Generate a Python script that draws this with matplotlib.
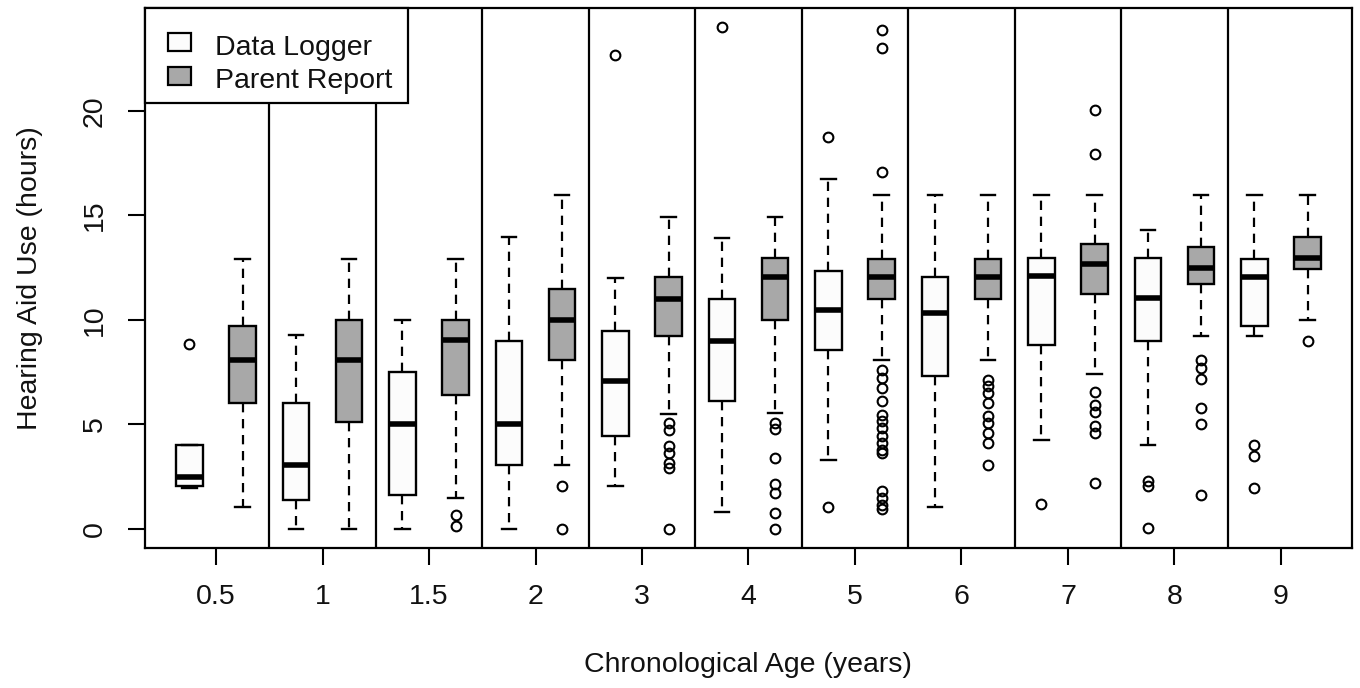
import matplotlib
matplotlib.use("Agg")
import matplotlib.pyplot as plt
from matplotlib.patches import Rectangle

# ---------------- data ----------------
ages = ['0.5', '1', '1.5', '2', '3', '4', '5', '6', '7', '8', '9']

dl_whislo = [1.95, 0.0, 0.0, 0.0, 2.05, 0.8, 3.3, 1.05, 4.25, 4.0, 9.25]
dl_q1     = [2.05, 1.4, 1.6, 3.07, 4.43, 6.1, 8.54, 7.29, 8.82, 8.97, 9.69]
dl_med    = [2.5, 3.07, 5.03, 5.03, 7.06, 9.0, 10.45, 10.35, 12.1, 11.04, 12.05]
dl_q3     = [4.0, 6.02, 7.49, 8.97, 9.45, 11.01, 12.36, 12.05, 12.98, 12.95, 12.92]
dl_whishi = [4.0, 9.29, 10.0, 13.99, 12.0, 13.94, 16.74, 15.98, 15.98, 14.31, 16.0]
dl_fliers = [[8.86], [], [], [], [22.7], [24.0], [18.74, 1.05], [], [1.21],
             [2.28, 2.04, 0.05], [4.03, 3.5, 1.96]]

pr_whislo = [1.05, 0.0, 1.48, 3.07, 5.5, 5.54, 8.09, 8.09, 7.39, 9.21, 10.0]
pr_q1     = [6.02, 5.11, 6.39, 8.09, 9.21, 10.0, 11.01, 11.01, 11.22, 11.71, 12.43]
pr_med    = [8.09, 8.09, 9.02, 10.0, 11.01, 12.07, 12.05, 12.05, 12.66, 12.48, 12.95]
pr_q3     = [9.73, 10.0, 10.0, 11.47, 12.03, 12.95, 12.92, 12.92, 13.61, 13.51, 13.96]
pr_whishi = [12.92, 12.92, 12.92, 15.98, 14.94, 14.94, 15.98, 15.98, 16.0, 15.98, 16.0]
pr_fliers = [[], [], [0.65, 0.15], [2.04, 0.0],
             [5.07, 4.75, 3.95, 3.63, 3.15, 2.92, 0.0],
             [5.07, 4.8, 3.39, 2.12, 1.72, 0.76, 0.0],
             [23.9, 23.0, 17.06, 7.61, 7.22, 6.74, 6.1, 5.46, 5.14, 4.83, 4.43,
              4.11, 3.79, 3.63, 1.8, 1.48, 1.16, 0.96],
             [7.14, 6.82, 6.5, 6.02, 5.38, 5.07, 4.59, 4.11, 3.07],
             [20.06, 17.93, 6.56, 5.91, 5.58, 4.92, 4.59, 2.2],
             [8.09, 7.7, 7.17, 5.78, 5.02, 1.64],
             [8.97]]

series_labels = ['Data Logger', 'Parent Report']
series_colors = ['#fcfcfc', '#a8a8a8']

# ---------------- figure ----------------
plt.rcParams['font.family'] = ['Liberation Sans', 'DejaVu Sans']
TXT = '#111111'
W, H = 1360, 688
fig = plt.figure(figsize=(W / 100, H / 100), dpi=100)
L, R, T, B = 145, 1352, 8, 548
ax = fig.add_axes([L / W, 1 - B / H, (R - L) / W, (B - T) / H])

def stats(wl, q1, md, q3, wh, fl):
    return [dict(whislo=a, q1=b, med=c, q3=d, whishi=e, fliers=f)
            for a, b, c, d, e, f in zip(wl, q1, md, q3, wh, fl)]

n = len(ages)
groups = [
    (stats(dl_whislo, dl_q1, dl_med, dl_q3, dl_whishi, dl_fliers), -0.25, series_colors[0]),
    (stats(pr_whislo, pr_q1, pr_med, pr_q3, pr_whishi, pr_fliers), 0.25, series_colors[1]),
]
for st, off, col in groups:
    ax.bxp(st, positions=[i + off for i in range(n)], widths=0.25,
           capwidths=0.135, patch_artist=True, manage_ticks=False,
           boxprops=dict(facecolor=col, edgecolor='black', linewidth=1.7),
           whiskerprops=dict(color='black', linewidth=1.6, linestyle=(0, (4.2, 3.0))),
           capprops=dict(color='black', linewidth=1.7),
           medianprops=dict(color='black', linewidth=4.0, solid_capstyle='butt'),
           flierprops=dict(marker='o', markersize=7, markerfacecolor='none',
                           markeredgecolor='black', markeredgewidth=1.5))

for i in range(n - 1):
    ax.axvline(i + 0.5, color='black', linewidth=1.6, zorder=1)

ax.set_xlim(-0.667, n - 1 + 0.667)
ax.set_ylim(-0.92, 24.93)
ax.set_xticks(range(n))
ax.set_xticklabels(ages)
ax.set_yticks([0, 5, 10, 15, 20])
ax.set_yticklabels(['0', '5', '10', '15', '20'], rotation=90, va='center')
ax.tick_params(axis='both', length=12, width=1.5, color='black',
               labelsize=20.5, labelcolor=TXT, direction='out')
ax.tick_params(axis='x', pad=14)
ax.tick_params(axis='y', pad=15)
for s in ax.spines.values():
    s.set_linewidth(1.6)
    s.set_color('black')

# ---------------- legend ----------------
def fx(px):
    return (px - L) / (R - L)

def fy(py):
    return (B - py) / (B - T)

ax.add_patch(Rectangle((fx(145), fy(103)), fx(408) - fx(145), fy(8) - fy(103),
                       transform=ax.transAxes, facecolor='white', edgecolor='black',
                       linewidth=1.6, zorder=10, clip_on=False))
for k, (lab, col) in enumerate(zip(series_labels, series_colors)):
    top = 33 + 34 * k
    ax.add_patch(Rectangle((fx(168), fy(top + 18)), fx(191) - fx(168), fy(top) - fy(top + 18),
                           transform=ax.transAxes, facecolor=col, edgecolor='black',
                           linewidth=1.6, zorder=11, clip_on=False))
    ax.text(fx(215), fy(55 + 33.5 * k), lab, transform=ax.transAxes,
            fontsize=20.5, color=TXT, ha='left', va='baseline', zorder=12)

fig.text(748 / W, 1 - 665 / H, 'Chronological Age (years)', fontsize=20.5,
         color=TXT, ha='center', va='center')
fig.text(30 / W, 1 - 278 / H, 'Hearing Aid Use (hours)', fontsize=20.5,
         color=TXT, ha='center', va='center', rotation=90)

fig.savefig('out.png', dpi=100)
